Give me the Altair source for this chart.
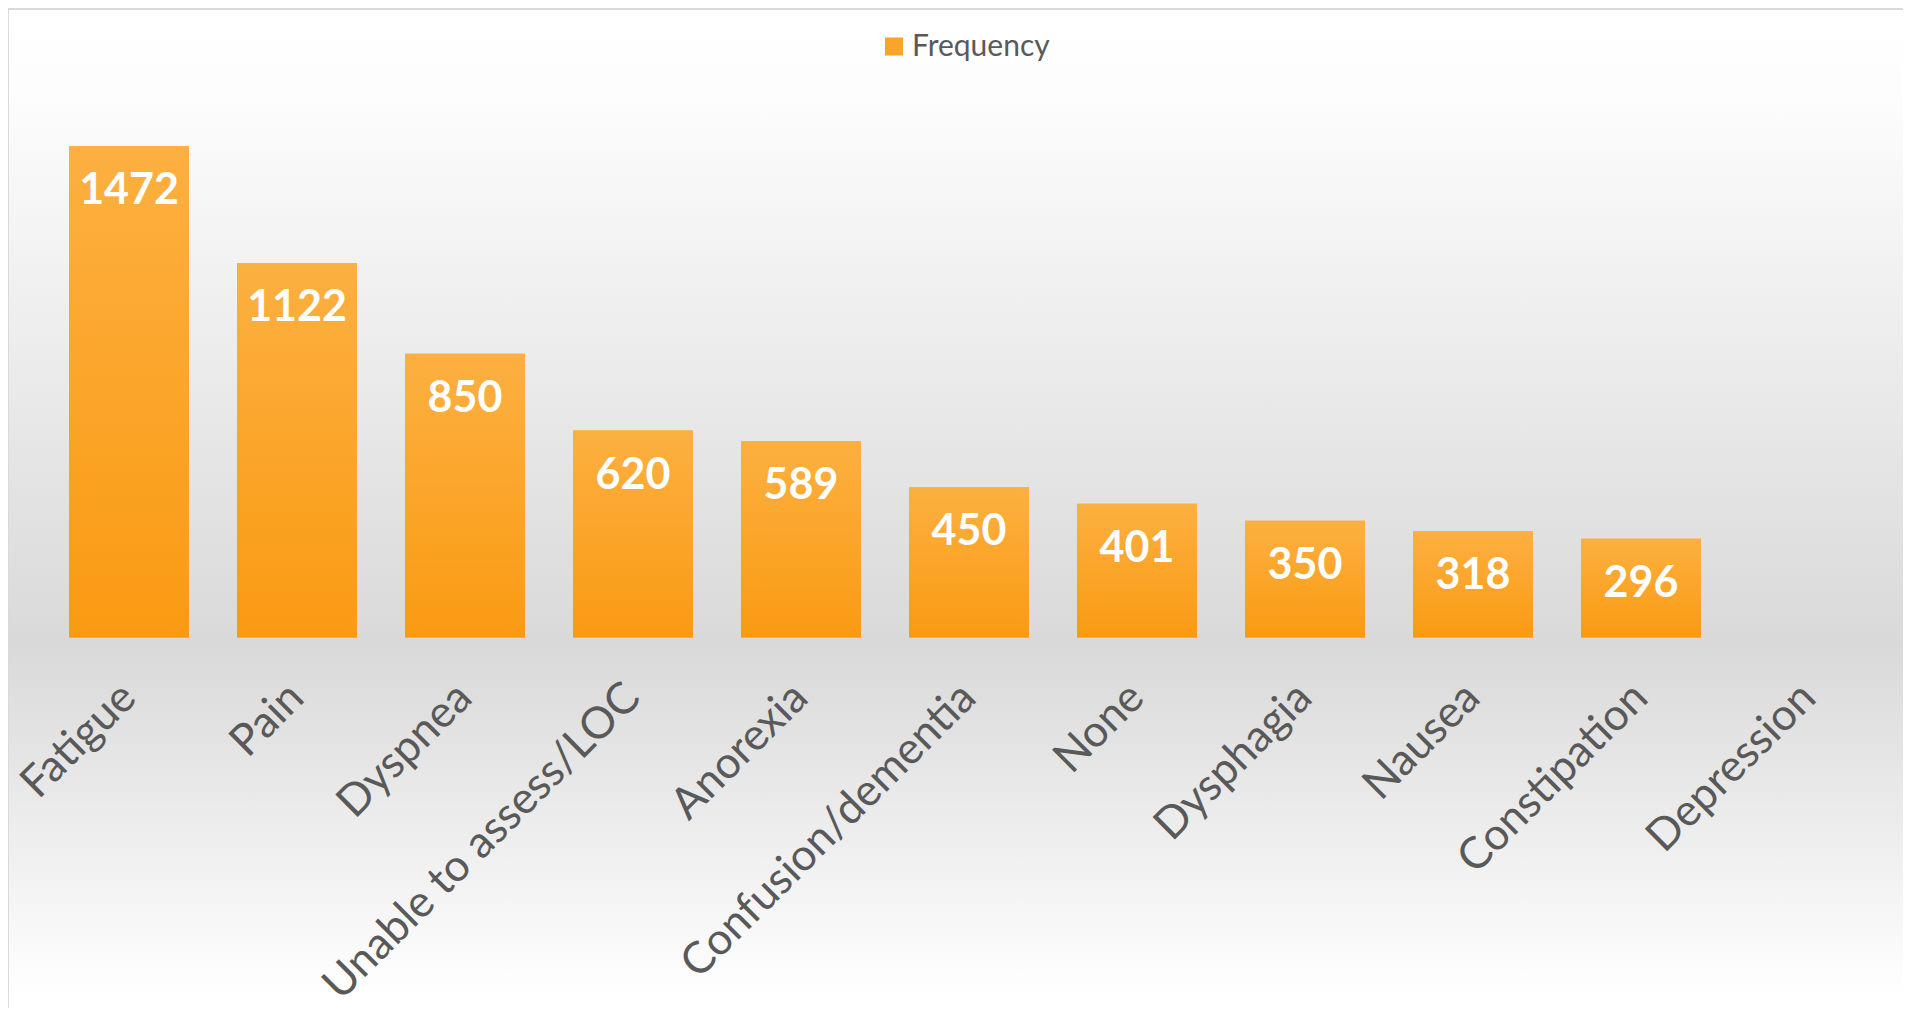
import altair as alt
import pandas as pd

categories = ["Fatigue", "Pain", "Dyspnea", "Unable to assess/LOC", "Anorexia",
              "Confusion/dementia", "None", "Dysphagia", "Nausea", "Constipation", "Depression"]
values = [1472, 1122, 850, 620, 589, 450, 401, 350, 318, 296, None]
series_name = "Frequency"

df = pd.DataFrame({"symptom": categories, "frequency": values, "series": series_name})

W, H = 1848, 534
PAD = {"left": 37, "top": 95.5, "right": 10, "bottom": 370}

bg_grad = alt.LinearGradient(
    gradient="linear", x1=0, x2=0, y1=0, y2=1,
    stops=[alt.GradientStop(offset=0, color="#ffffff"),
           alt.GradientStop(offset=0.08, color="#fdfdfd"),
           alt.GradientStop(offset=0.63, color="#d9d9d9"),
           alt.GradientStop(offset=0.98, color="#ffffff"),
           alt.GradientStop(offset=1, color="#ffffff")])

bar_grad = alt.LinearGradient(
    gradient="linear", x1=0, x2=0, y1=0, y2=1,
    stops=[alt.GradientStop(offset=0, color="#FCB041"),
           alt.GradientStop(offset=1, color="#FA9A12")])

x_enc = alt.X("symptom:N", scale=alt.Scale(domain=categories, paddingInner=0.286, paddingOuter=0.143),
              axis=alt.Axis(title=None, labelAngle=-45, labelAlign="right", labelBaseline="middle",
                            labelPadding=53, labelFontSize=44, labelFont="Lato", labelColor="#595959",
                            domain=False, ticks=False, grid=False, labelOverlap=False, labelLimit=0,
                            zindex=2))
y_enc = alt.Y("frequency:Q", scale=alt.Scale(domain=[0, 1600], nice=False, zero=True), axis=None)

background = alt.Chart(alt.Data(values=[{"bg": 1}])).mark_rect(
    fill=bg_grad, stroke="#d9d9d9", strokeWidth=2
).encode(
    x=alt.value(-PAD["left"]), x2=alt.value(W + PAD["right"] + 10),
    y=alt.value(-PAD["top"] + 1), y2=alt.value(H + PAD["bottom"] + 10)
)

legend_bars = alt.Chart(df).mark_bar().encode(
    x=x_enc, y=y_enc,
    color=alt.Color("series:N", scale=alt.Scale(range=["#FBA42A"]),
                    legend=alt.Legend(title=None, orient="none", legendX=834, legendY=-72,
                                      symbolType="square", symbolSize=324, symbolStrokeWidth=0,
                                      labelFontSize=30, labelFont="Lato", labelColor="#595959",
                                      labelOffset=3, zindex=2))
)

bars = alt.Chart(df).mark_bar(fill=bar_grad).encode(x=x_enc, y=y_enc)

labels = alt.Chart(df).mark_text(
    color="white", font="Lato", fontWeight="bold", fontSize=43, baseline="alphabetic", dy=58
).encode(x=x_enc, y=y_enc, text=alt.Text("frequency:Q", format="d"))

chart = alt.layer(background, legend_bars, bars, labels).properties(
    width=W, height=H, padding=PAD, autosize="none"
).configure_view(stroke=None)

chart.save("out.html", embed_options={"renderer": "svg", "actions": False})
